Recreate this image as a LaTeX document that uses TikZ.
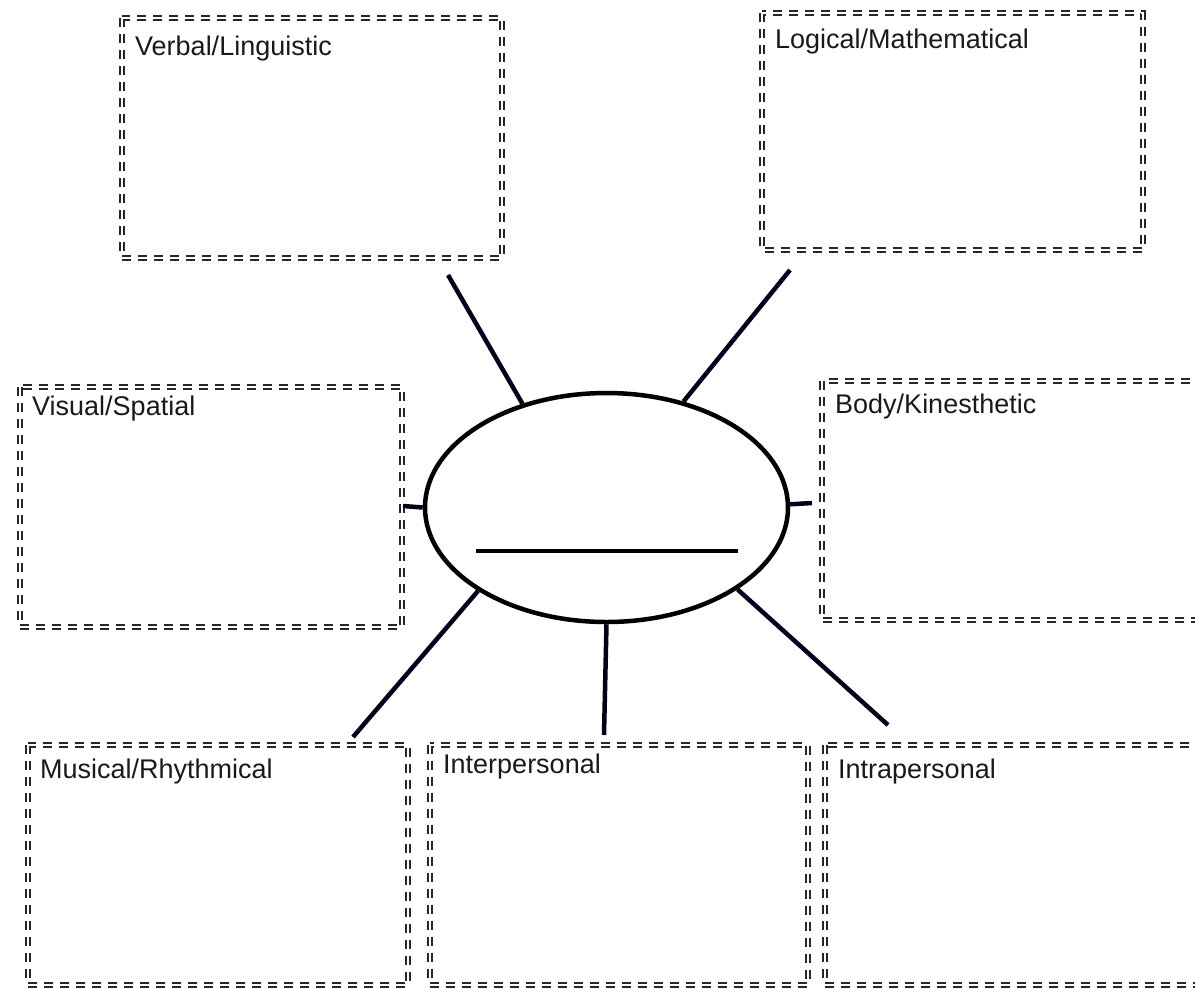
\documentclass[tikz,border=0pt]{standalone}
\usepackage{fontspec}
\setmainfont{Liberation Sans}
\usetikzlibrary{shapes.geometric}
\tikzset{
  dbox/.style={draw=black!85, line width=2.4pt, double=white, double distance=1.8pt,
    dash pattern=on 9pt off 7pt},
  lbl/.style={anchor=base west, inner sep=0pt, text=black!90, font=\fontsize{27}{31}\selectfont},
  conn/.style={line width=4.5pt, draw=black!90!blue},
}
\begin{document}
\begin{tikzpicture}[x=1pt,y=-1pt]
\useasboundingbox (0,0) rectangle (1195,989);
\clip (0,0) rectangle (1195,989);
% boxes
\draw[dbox] (122,18) rectangle (502,258); \node[lbl] (tv) at (135,55) {Verbal/Linguistic};
\draw[dbox] (762,13) rectangle (1143,250); \node[lbl] (tl) at (775,48) {Logical/Mathematical};
\draw[dbox] (20,387) rectangle (402,627); \node[lbl] (ts) at (32,415) {Visual/Spatial};
\draw[dbox] (822,381) rectangle (1215,620); \node[lbl] (tb) at (835,413) {Body/Kinesthetic};
\draw[dbox] (28,745) rectangle (408,985); \node[lbl] (tm) at (40,778) {Musical/Rhythmical};
\draw[dbox] (430,745) rectangle (808,985); \node[lbl] (ti) at (443,773) {Interpersonal};
\draw[dbox] (825,745) rectangle (1215,985); \node[lbl] (ta) at (838,778) {Intrapersonal};
% centre ellipse
\node[ellipse, draw, line width=4.5pt, inner sep=0pt, minimum width=363pt, minimum height=229pt] (ell) at (606.5,507.5) {};
\coordinate (la) at (476,551);
\coordinate (lb) at (738,551);
\draw[line width=4.5pt] (la) -- (lb);
% free ends
\coordinate (cv) at (448,275);
\coordinate (cl) at (790,270);
\coordinate (cs) at (403,506);
\coordinate (cb) at (812,503);
\coordinate (cm) at (353,737);
\coordinate (ci) at (604,735);
\coordinate (ca) at (888,725);
\draw[conn] (ell.129.6) -- (cv);
\draw[conn] (ell.54.1) -- (cl);
\draw[conn] (ell.180) -- (cs);
\draw[conn] (ell.1.5) -- (cb);
\draw[conn] (ell.213.6) -- (cm);
\draw[conn] (ell.270) -- (ci);
\draw[conn] (ell.328.3) -- (ca);
\end{tikzpicture}
\end{document}
